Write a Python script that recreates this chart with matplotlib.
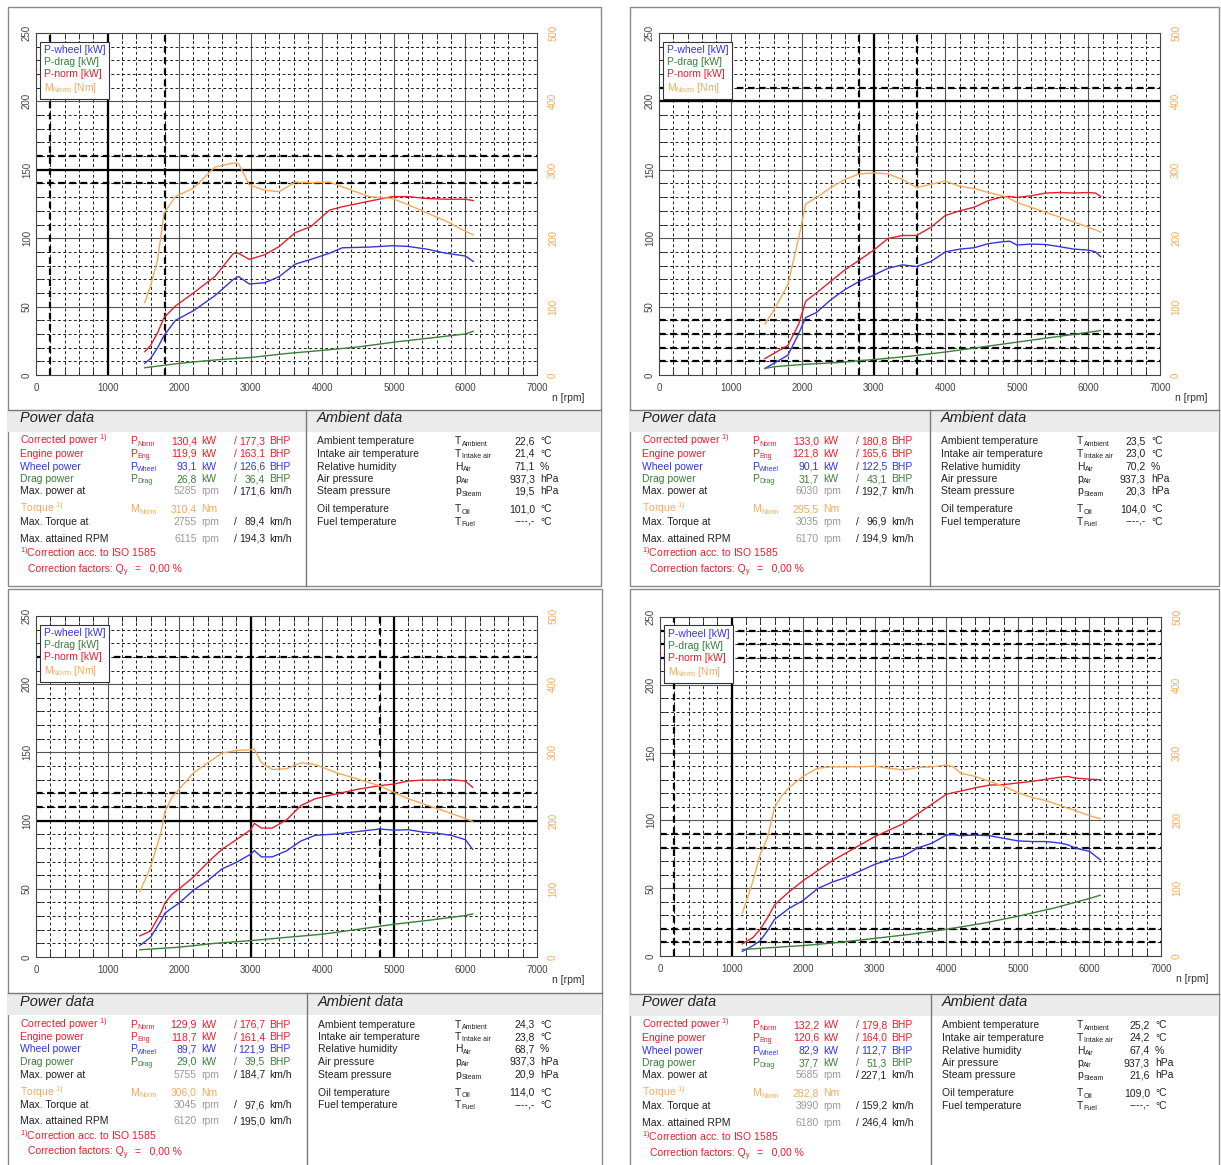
import matplotlib
matplotlib.use("Agg")
import matplotlib.pyplot as plt
from matplotlib.patches import Rectangle

W, H = 1221, 1165
plt.rcParams['font.family'] = ['Liberation Sans', 'DejaVu Sans']
plt.rcParams['mathtext.default'] = 'regular'

BLUE = '#3535dd'
GREEN = '#3a7f3a'
RED = '#e4202c'
ORANGE = '#f4aa5a'
GRAY = '#9a9a9a'

# --- curves, read from the four dyno sheets (rpm / kW / Nm) ---
rpm_1 = [1520, 1600, 1700, 1790, 1950, 2200, 2500, 2760, 2830, 2980, 3200, 3400, 3620, 3840,
         4100, 4280, 4650, 4980, 5200, 5460, 5730, 6000, 6110]
wheel_1 = [8.5, 12, 20, 29, 40, 47, 58, 70, 72, 66.5, 67.5, 72, 81, 84.5, 89, 93, 93.5, 94.5, 94,
           92, 89, 87, 83]
norm_1 = [17, 21.5, 31, 42, 50.5, 60, 72, 89, 89, 84.5, 88, 94, 104, 108.5, 120.5, 123, 127,
          130.4, 130.4, 129, 128.5, 128.5, 127.5]
torque_1 = [106, 130, 169, 237, 261, 273, 304, 310, 309, 278, 270, 268, 282, 281, 282, 275, 261,
            258, 249, 237, 225, 210, 205]
rpm_drag_1 = [1520, 2000, 2500, 3000, 3500, 4000, 4500, 5000, 5500, 6000, 6110]
drag_1 = [5.3, 8.5, 11, 12.8, 15.7, 18, 20.5, 24, 27, 30, 32]

rpm_2 = [1480, 1600, 1800, 1950, 2050, 2200, 2400, 2600, 2800, 3000, 3200, 3400, 3600, 3800,
         4000, 4200, 4400, 4600, 4800, 4900, 5000, 5200, 5400, 5600, 5800, 6000, 6100, 6170]
wheel_2 = [4.8, 8.4, 14.4, 30, 42, 45.7, 55, 62.5, 68.5, 73, 78, 80.5, 79.3, 83, 90, 92, 93, 96,
           97.4, 97.8, 95, 95.7, 95.4, 93.8, 92, 91.3, 90, 86.5]
norm_2 = [12, 15.6, 21.6, 37, 54, 60, 68.5, 77, 84, 91.3, 99.8, 102, 102, 108, 116.6, 120, 122.6,
          127.4, 130.3, 130.5, 129.8, 131, 133, 133.4, 133, 133.4, 133, 130.5]
torque_2 = [74.5, 93.8, 132, 199.5, 250, 259.6, 274, 286, 294, 295.5, 294, 286, 274, 278.8, 283.6,
            276, 272.6, 267, 262, 258, 252.4, 245, 238, 230.8, 223.6, 216, 212, 209]
rpm_drag_2 = [1480, 1600, 2000, 2500, 3000, 3500, 4000, 4500, 5000, 5500, 6000, 6170]
drag_2 = [4.8, 6, 7.7, 9.1, 11.3, 13.7, 16.8, 20.4, 24, 27.6, 31.2, 32.5]

rpm_3 = [1450, 1600, 1750, 1800, 1900, 2000, 2200, 2400, 2600, 2800, 3000, 3050, 3150, 3300,
         3500, 3700, 3900, 4200, 4500, 4800, 5000, 5200, 5400, 5600, 5800, 6000, 6100]
wheel_3 = [8.4, 14.4, 27, 32, 36, 39.5, 49, 56, 64.6, 69.4, 75.4, 78, 73.4, 73.4, 77.8, 85, 89.2,
           90.2, 92, 93.8, 93, 93.3, 91.6, 90.7, 89.2, 86, 79]
norm_3 = [15.5, 19, 33, 39.5, 46, 50, 58.6, 69.4, 79, 86, 93.3, 98, 94.5, 94.5, 100.5, 111, 116,
          119.6, 123, 125.6, 126.8, 129, 129.7, 129.7, 130, 129, 124.4]
torque_3 = [95.7, 131.6, 184, 213, 234.4, 246, 270, 284.7, 299, 302.9, 303.8, 305, 284.7, 275, 276,
            284.7, 282.3, 270, 260.8, 251, 241.6, 232, 225, 217.7, 210.5, 203, 198.6]
rpm_drag_3 = [1450, 2000, 2500, 3000, 3500, 4000, 4500, 5000, 5500, 6000, 6100]
drag_3 = [5.3, 7.2, 10, 12, 14.4, 16.7, 20.3, 24, 27, 30.4, 31.6]

rpm_4 = [1150, 1300, 1400, 1500, 1600, 1700, 1800, 2000, 2200, 2400, 2600, 2800, 3000, 3200, 3400,
         3600, 3800, 4000, 4100, 4200, 4400, 4600, 4800, 5000, 5200, 5400, 5600, 5700, 5800, 6000,
         6150]
wheel_4 = [3.4, 7.7, 11.3, 18.5, 27, 31, 35, 41, 49.6, 54.4, 58, 62.8, 67.6, 71, 73.6, 79.6, 83.2,
           89.2, 89.5, 88.7, 89.2, 88.7, 86.8, 84.9, 84.4, 84.4, 83.2, 82, 79.6, 77.2, 71]
norm_4 = [8.9, 13.7, 19.7, 28, 37.6, 42.5, 47.2, 55.6, 62.8, 70, 76, 82, 88, 92.8, 97.6, 104.8, 112,
          119.2, 120.5, 121.6, 124, 126, 126.4, 127.6, 128.8, 130.4, 131.9, 132.4, 131.2, 130.4, 130]
torque_4 = [63, 111, 150, 174, 219, 236, 248, 265, 277, 279, 279, 279, 280, 277, 274.5, 278, 279,
            281.7, 279, 269.7, 265, 257.7, 250.5, 241, 233.7, 229, 221.7, 218, 214.5, 207, 202.5]
rpm_drag_4 = [1150, 1500, 2000, 2500, 3000, 3500, 4000, 4500, 5000, 5500, 6000, 6150]
drag_4 = [4.8, 6, 7.7, 10, 13, 16, 19.7, 24, 29.3, 35.3, 42.4, 44.8]

# cursor lines highlighted on each sheet ('s' solid, 'd' dashed)
cursor_rpm = [[(200, 'd'), (1000, 's'), (1800, 'd')],
              [(2800, 'd'), (3000, 's'), (3600, 'd')],
              [(3000, 's'), (4800, 'd'), (5000, 's')],
              [(200, 'd'), (1000, 's')]]
cursor_kw = [[(140, 'd'), (150, 's'), (160, 'd')],
             [(200, 's'), (210, 'd'), (10, 'd'), (20, 'd'), (30, 'd'), (40, 'd')],
             [(100, 's'), (110, 'd'), (120, 'd'), (220, 'd')],
             [(10, 'd'), (20, 'd'), (80, 'd'), (90, 'd'), (220, 'd'), (230, 'd'), (240, 'd')]]

# --- table values ---
p_norm_kw = ["130,4", "133,0", "129,9", "132,2"]
p_norm_bhp = ["177,3", "180,8", "176,7", "179,8"]
p_eng_kw = ["119,9", "121,8", "118,7", "120,6"]
p_eng_bhp = ["163,1", "165,6", "161,4", "164,0"]
p_wheel_kw = ["93,1", "90,1", "89,7", "82,9"]
p_wheel_bhp = ["126,6", "122,5", "121,9", "112,7"]
p_drag_kw = ["26,8", "31,7", "29,0", "37,7"]
p_drag_bhp = ["36,4", "43,1", "39,5", "51,3"]
max_power_rpm = ["5285", "6030", "5755", "5685"]
max_power_kmh = ["171,6", "192,7", "184,7", "227,1"]
torque_nm = ["310,4", "295,5", "306,0", "282,8"]
max_torque_rpm = ["2755", "3035", "3045", "3990"]
max_torque_kmh = ["89,4", "96,9", "97,6", "159,2"]
max_rpm = ["6115", "6170", "6120", "6180"]
max_rpm_kmh = ["194,3", "194,9", "195,0", "246,4"]
t_ambient = ["22,6", "23,5", "24,3", "25,2"]
t_intake = ["21,4", "23,0", "23,8", "24,2"]
humidity = ["71,1", "70,2", "68,7", "67,4"]
p_air = ["937,3", "937,3", "937,3", "937,3"]
p_steam = ["19,5", "20,3", "20,9", "21,6"]
t_oil = ["101,0", "104,0", "114,0", "109,0"]
t_fuel = ["----,-", "----,-", "----,-", "----,-"]

amb_labels = ["Ambient temperature", "Intake air temperature", "Relative humidity",
              "Air pressure", "Steam pressure", "Oil temperature", "Fuel temperature"]
amb_syms = [("T", "Ambient"), ("T", "Intake air"), ("H", "Air"), ("p", "Air"), ("p", "Steam"),
            ("T", "Oil"), ("T", "Fuel")]
amb_units = ["°C", "°C", "%", "hPa", "hPa", "°C", "°C"]

# layout of the four sheets (pixels)
panel_boxes = [(8, 7, 601, 586), (630, 7, 1219, 586), (8, 589, 602, 1167), (630, 589, 1219, 1167)]
plot_rects = [(36, 33, 537, 375), (659, 33, 1160, 375), (36, 616, 537, 957), (660, 617, 1161, 956)]
info_tops = [410, 410, 993, 994]
dividers = [306, 930, 307, 931]
amb_value_x = [535, 1146, 535, 1150]

fig = plt.figure(figsize=(W / 100, H / 100), dpi=100)
ov = fig.add_axes([0, 0, 1, 1], zorder=10)
ov.set_xlim(0, W)
ov.set_ylim(H, 0)
ov.axis('off')


def txt(x, y, s, color='#222', ha='left', size=7.5, **kw):
    return ov.text(x, y + 3.5, s, color=color, ha=ha, va='baseline', fontsize=size, **kw)


def sym(x, y, base, sub, color='#222'):
    t = txt(x, y, base, color=color)
    ov.annotate(sub, xy=(1, 0), xycoords=t, xytext=(0.4, 0.6), textcoords='offset points',
                va='baseline', ha='left', fontsize=5, color=color)


def draw_chart(i, rpm, wheel, norm, torque, rpm_d, drag):
    x0, y0, x1, y1 = plot_rects[i]
    ax = fig.add_axes([x0 / W, 1 - y1 / H, (x1 - x0) / W, (y1 - y0) / H])
    ax.set_xlim(0, 7000)
    ax.set_ylim(0, 250)
    for r in range(200, 7000, 200):
        if r % 1000 == 0:
            ax.axvline(r, color='#555555', lw=0.8)
        else:
            ax.axvline(r, color='#222222', lw=0.7, ls=(0, (3, 2.5)))
    for k in range(10, 250, 10):
        if k % 50 == 0:
            ax.axhline(k, color='#555555', lw=0.8)
        else:
            ax.axhline(k, color='#222222', lw=0.7, ls=(0, (3, 2.5)))
    for r, st in cursor_rpm[i]:
        ax.axvline(r, color='black', lw=1.6, ls='-' if st == 's' else (0, (3, 2)))
    for k, st in cursor_kw[i]:
        ax.axhline(k, color='black', lw=1.6, ls='-' if st == 's' else (0, (3, 2)))

    l1, = ax.plot(rpm, wheel, color=BLUE, lw=1, zorder=4, label='P-wheel [kW]')
    l2, = ax.plot(rpm_d, drag, color=GREEN, lw=1, zorder=4, label='P-drag [kW]')
    l3, = ax.plot(rpm, norm, color=RED, lw=1, zorder=4, label='P-norm [kW]')

    ax.set_xticks(range(0, 7001, 1000))
    ax.set_xticks(range(0, 7001, 200), minor=True)
    ax.set_yticks(range(0, 251, 50))
    ax.set_yticks(range(0, 251, 10), minor=True)
    ax.tick_params(which='major', length=0, labelsize=7, labelcolor='#444444')
    ax.tick_params(which='minor', direction='in', length=4, color='#222222',
                   top=True, bottom=True, left=True)
    ax.tick_params(axis='x', pad=6)
    ax.tick_params(axis='y', labelrotation=90, pad=3)
    for lbl in ax.get_yticklabels():
        lbl.set_va('center')
    for s in ax.spines.values():
        s.set_color('#444444')
        s.set_linewidth(0.8)

    ax2 = ax.twinx()
    ax2.set_ylim(0, 500)
    l4, = ax2.plot(rpm, torque, color=ORANGE, lw=1, zorder=4, label='M$_{Norm}$ [Nm]')
    ax2.set_yticks(range(0, 501, 100))
    ax2.tick_params(length=0, labelsize=7, labelcolor=ORANGE, labelrotation=90, pad=8)
    for lbl in ax2.get_yticklabels():
        lbl.set_va('center')
    for s in ax2.spines.values():
        s.set_visible(False)

    leg = ax2.legend(handles=[l1, l2, l3, l4], loc='upper left', bbox_to_anchor=(0.008, 0.975),
                     handlelength=0, handletextpad=0, labelcolor='linecolor', fontsize=7.5,
                     labelspacing=0.2, borderpad=0.35, borderaxespad=0, fancybox=False,
                     framealpha=1, edgecolor='#333333')
    leg.get_frame().set_linewidth(0.8)
    for h in leg.legend_handles:
        h.set_visible(False)

    ov.text(x1 + 31, y1 + 23, 'n [rpm]', ha='center', va='center', fontsize=7.5, color='#333333')


def draw_info(i):
    bx0, by0, bx1, by1 = panel_boxes[i]
    it = info_tops[i]
    dv = dividers[i]
    ov.add_patch(Rectangle((bx0, by0), bx1 - bx0, by1 - by0, fill=False, edgecolor='#8a8a8a', lw=1))
    ov.add_patch(Rectangle((bx0, it), bx1 - bx0, 22, facecolor='#ebebeb', edgecolor='none'))
    ov.plot([bx0, bx1], [it, it], color='#777777', lw=1)
    ov.plot([dv, dv], [it, by1], color='#777777', lw=1)
    txt(bx0 + 12, it + 9, 'Power data', size=10.5, style='italic', color='#222222')
    txt(dv + 11, it + 9, 'Ambient data', size=10.5, style='italic', color='#222222')

    cl, cs, cv1, cu1, csl, cv2, cu2 = (bx0 + 12, bx0 + 122, bx0 + 189, bx0 + 193,
                                       bx0 + 226, bx0 + 257, bx0 + 261)
    rows = [("Corrected power $^{1)}$", "Norm", p_norm_kw[i], p_norm_bhp[i], RED),
            ("Engine power", "Eng", p_eng_kw[i], p_eng_bhp[i], RED),
            ("Wheel power", "Wheel", p_wheel_kw[i], p_wheel_bhp[i], BLUE),
            ("Drag power", "Drag", p_drag_kw[i], p_drag_bhp[i], GREEN)]
    for j, (lab, sub, kw, bhp, c) in enumerate(rows):
        y = it + 31 + 12.5 * j
        txt(cl, y, lab, color=c)
        sym(cs, y, 'P', sub, color=c)
        txt(cv1, y, kw, color=c, ha='right')
        txt(cu1, y, 'kW', color=c)
        txt(csl, y, '/', color=c)
        txt(cv2, y, bhp, color=c, ha='right')
        txt(cu2, y, 'BHP', color=c)

    speed_rows = [("Max. power at", max_power_rpm[i], max_power_kmh[i], it + 81),
                  ("Max. Torque at", max_torque_rpm[i], max_torque_kmh[i], it + 111.5),
                  ("Max. attained RPM", max_rpm[i], max_rpm_kmh[i], it + 128)]
    for lab, r, kmh, y in speed_rows:
        txt(cl, y, lab)
        txt(cv1, y, r, color=GRAY, ha='right')
        txt(cu1, y, 'rpm', color=GRAY)
        txt(csl, y, '/')
        txt(cv2, y, kmh, ha='right')
        txt(cu2, y, 'km/h')

    y = it + 99
    txt(cl, y, "Torque $^{1)}$", color=ORANGE)
    sym(cs, y, 'M', 'Norm', color=ORANGE)
    txt(cv1, y, torque_nm[i], color=ORANGE, ha='right')
    txt(cu1, y, 'Nm', color=ORANGE)

    txt(cl, it + 143.5, "$^{1)}$Correction acc. to ISO 1585", color=RED)
    t = txt(bx0 + 20, it + 158, "Correction factors: Q", color=RED)
    ov.annotate("y", xy=(1, 0), xycoords=t, xytext=(0.4, 0.6), textcoords='offset points',
                va='baseline', fontsize=5, color=RED)
    txt(bx0 + 127, it + 158, "=   0,00 %", color=RED)

    amb_vals = [t_ambient[i], t_intake[i], humidity[i], p_air[i], p_steam[i], t_oil[i], t_fuel[i]]
    amb_y = [31, 43.5, 56, 68.5, 81, 99, 111.5]
    vx = amb_value_x[i]
    for lab, (base, sub), v, u, dy in zip(amb_labels, amb_syms, amb_vals, amb_units, amb_y):
        y = it + dy
        txt(dv + 11, y, lab)
        sym(bx0 + 447, y, base, sub)
        txt(vx, y, v, ha='right')
        txt(vx + 5, y, u)


curves = [(rpm_1, wheel_1, norm_1, torque_1, rpm_drag_1, drag_1),
          (rpm_2, wheel_2, norm_2, torque_2, rpm_drag_2, drag_2),
          (rpm_3, wheel_3, norm_3, torque_3, rpm_drag_3, drag_3),
          (rpm_4, wheel_4, norm_4, torque_4, rpm_drag_4, drag_4)]
for i, c in enumerate(curves):
    draw_chart(i, *c)
    draw_info(i)

fig.savefig('out.png', dpi=100, facecolor='white')
